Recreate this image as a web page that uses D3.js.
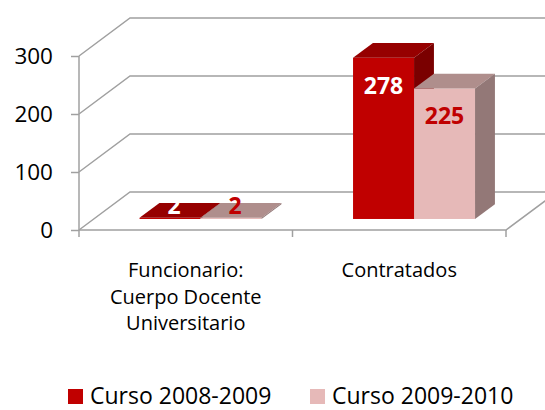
<!DOCTYPE html>
<html>
<head>
<meta charset="utf-8">
<script src="https://cdn.jsdelivr.net/npm/d3@7"></script>
<style>
  body { margin: 0; background: #fff; }
  svg { display: block; font-family: "Open Sans", sans-serif; }
</style>
</head>
<body>
<div id="chart"></div>
<script>
// chart values
const categories = ["Funcionario: Cuerpo Docente Universitario", "Contratados"];
const categoryLines = [["Funcionario:", "Cuerpo Docente", "Universitario"], ["Contratados"]];
const seriesNames = ["Curso 2008-2009", "Curso 2009-2010"];
const values2008 = [2, 278];
const values2009 = [2, 225];
const yTicks = [0, 100, 200, 300];

const width = 545, height = 410;
const svg = d3.select("#chart").append("svg")
  .attr("width", width)
  .attr("height", height);

// colours per series: front, top, side, label
const palette = [
  { front: "#C00000", top: "#960000", side: "#7A0000", label: "#FFFFFF" },
  { front: "#E6B9B8", top: "#AF8E8C", side: "#937877", label: "#C00000" }
];

// 3d frame
const depthX = 51, depthY = 38;
const barStart = 0.29, barEnd = 0.68;   // bar depth as share of the floor

const y = d3.scaleLinear().domain([0, 300]).range([230, 56]);
const x = d3.scaleBand().domain(categories).range([79, 506]);
const xs = d3.scaleBand().domain(seriesNames).range([-61, 61]);

const gridColor = "#A0A0A0";
const grid = svg.append("g")
  .attr("stroke", gridColor)
  .attr("stroke-width", 1.5)
  .attr("fill", "none");

// back wall lines + diagonals on side wall
yTicks.forEach(t => {
  grid.append("path")
    .attr("d", `M${x.range()[0]},${y(t)} L${x.range()[0] + depthX},${y(t) - depthY} L${width + 5},${y(t) - depthY}`);
});
// front vertical axis
grid.append("line")
  .attr("x1", x.range()[0]).attr("x2", x.range()[0])
  .attr("y1", y(300)).attr("y2", y(0));
// floor front edge and right edge
grid.append("path")
  .attr("d", `M${x.range()[0]},${y(0)} L${x.range()[1]},${y(0)} L${x.range()[1] + depthX},${y(0) - depthY}`);
// category ticks
const bounds = categories.map(c => x(c)).concat([x.range()[1]]);
grid.selectAll(".ctick")
  .data(bounds)
  .join("line")
  .attr("x1", d => d).attr("x2", d => d)
  .attr("y1", y(0)).attr("y2", y(0) + 7);

// y axis ticks and labels
const yAxis = svg.append("g")
  .attr("transform", `translate(${x.range()[0]},0)`)
  .call(d3.axisLeft(y).tickValues(yTicks).tickSize(8).tickPadding(18));
yAxis.select(".domain").remove();
yAxis.selectAll(".tick line").attr("stroke", gridColor).attr("stroke-width", 1.5);
yAxis.selectAll(".tick text")
  .attr("font-family", "Open Sans")
  .attr("font-size", 22.5)
  .attr("fill", "#000");

// bars
const offX = depthX * barStart, offY = depthY * barStart;
const bx = depthX * (barEnd - barStart), by = depthY * (barEnd - barStart);
const seriesValues = [values2008, values2009];

const bars = [];
seriesValues.forEach((vals, si) => {
  vals.forEach((v, ci) => {
    bars.push({ si, ci, v });
  });
});
// draw per category, series in order
bars.sort((a, b) => a.ci - b.ci || a.si - b.si);

const barG = svg.append("g");
bars.forEach(b => {
  const c = categories[b.ci];
  const cx = x(c) + x.bandwidth() / 2 + offX;
  const x0 = cx + xs(seriesNames[b.si]);
  const x1 = x0 + xs.bandwidth();
  const yb = y(0) - offY;
  const yt = y(b.v) - offY;
  const col = palette[b.si];
  const g = barG.append("g");
  g.append("rect")
    .attr("x", x0).attr("y", yt)
    .attr("width", x1 - x0).attr("height", yb - yt)
    .attr("fill", col.front);
  g.append("path")
    .attr("d", `M${x0},${yt} L${x1},${yt} L${x1 + bx},${yt - by} L${x0 + bx},${yt - by}Z`)
    .attr("fill", col.top);
  g.append("path")
    .attr("d", `M${x1},${yt} L${x1 + bx},${yt - by} L${x1 + bx},${yb - by} L${x1},${yb}Z`)
    .attr("fill", col.side);
  // label inside the top, or on the top face for very short bars
  const flat = yt + 27 > yb - 14;
  b.lx = (x0 + x1) / 2 + (flat ? 4 : 0);
  b.ly = flat ? yb - 14 : yt + 27;
});

// data labels
svg.append("g")
  .selectAll("text")
  .data(bars)
  .join("text")
  .attr("x", d => d.lx)
  .attr("y", d => d.ly)
  .attr("text-anchor", "middle")
  .attr("dominant-baseline", "central")
  .attr("font-size", 23)
  .attr("font-weight", "bold")
  .attr("fill", d => palette[d.si].label)
  .text(d => d.v);

// category labels
const catG = svg.append("g")
  .attr("font-size", 20)
  .attr("fill", "#000")
  .attr("text-anchor", "middle");
categories.forEach((c, i) => {
  const t = catG.append("text")
    .attr("x", x(c) + x.bandwidth() / 2)
    .attr("y", 277);
  categoryLines[i].forEach((line, j) => {
    t.append("tspan")
      .attr("x", x(c) + x.bandwidth() / 2)
      .attr("dy", j === 0 ? 0 : 26.5)
      .text(line);
  });
});

// legend
const legendX = [68, 310];
const legend = svg.append("g")
  .selectAll("g")
  .data(seriesNames)
  .join("g")
  .attr("transform", (d, i) => `translate(${legendX[i]},389)`);
legend.append("rect")
  .attr("width", 15).attr("height", 15)
  .attr("fill", (d, i) => palette[i].front);
legend.append("text")
  .attr("x", 22).attr("y", 15)
  .attr("font-size", 23)
  .attr("fill", "#000")
  .text(d => d);
</script>
</body>
</html>
